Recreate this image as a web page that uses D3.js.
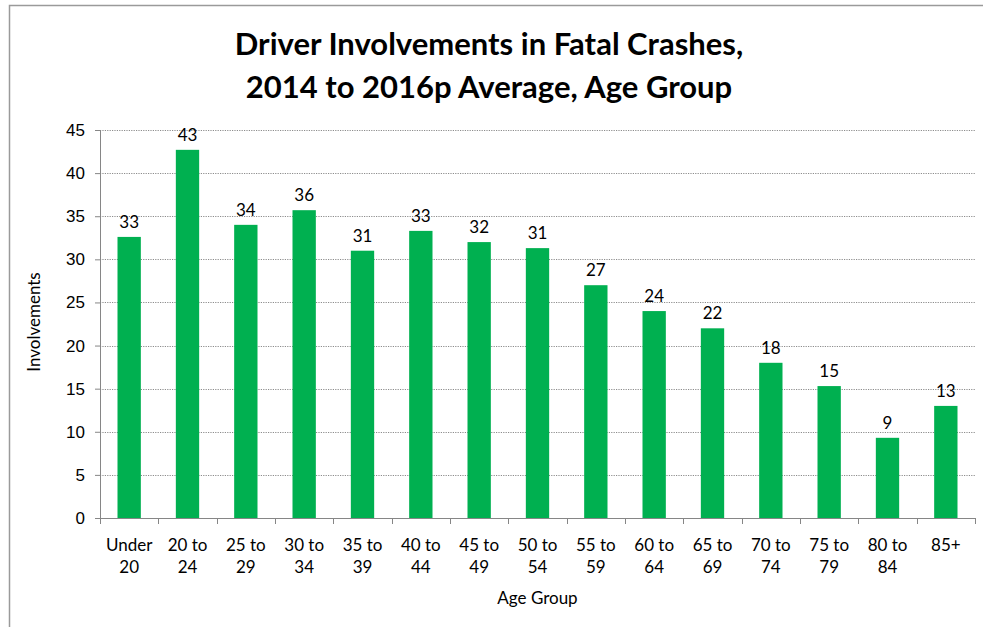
<!DOCTYPE html>
<html>
<head>
<meta charset="utf-8">
<script src="https://cdn.jsdelivr.net/npm/d3@7"></script>
<style>
  body { margin: 0; background: #fff; }
  svg { display: block; font-family: Lato, "Open Sans", sans-serif; }
  .grid line { stroke: #8c8c8c; stroke-dasharray: 1.2 1.2; stroke-width: 1; }
  .axis path, .axis line { stroke: #868686; }
  .axis text { font-size: 17px; fill: #000; }
</style>
</head>
<body>
<div id="chart"></div>
<script>
// age groups (two-line labels) and average involvements
var ageGroups = ["Under 20", "20 to 24", "25 to 29", "30 to 34", "35 to 39", "40 to 44", "45 to 49",
  "50 to 54", "55 to 59", "60 to 64", "65 to 69", "70 to 74", "75 to 79", "80 to 84", "85+"];
var tickLines = [["Under", "20"], ["20 to", "24"], ["25 to", "29"], ["30 to", "34"], ["35 to", "39"],
  ["40 to", "44"], ["45 to", "49"], ["50 to", "54"], ["55 to", "59"], ["60 to", "64"], ["65 to", "69"],
  ["70 to", "74"], ["75 to", "79"], ["80 to", "84"], ["85+"]];
var involvements = [32.6, 42.7, 34.0, 35.7, 31.0, 33.3, 32.0, 31.3, 27.0, 24.0, 22.0, 18.0, 15.3, 9.3, 13.0];
var yTicks = [0, 5, 10, 15, 20, 25, 30, 35, 40, 45];

var W = 983, H = 627;
var margin = {top: 130, right: 8, bottom: 109, left: 100};
var width = W - margin.left - margin.right,
  height = H - margin.top - margin.bottom;

var svg = d3.select("#chart").append("svg").attr("width", W).attr("height", H);

/* outer frame */
svg.append("rect")
  .attr("x", 9.5).attr("y", 5.5).attr("width", 1000).attr("height", 700)
  .attr("fill", "none").attr("stroke", "#9a9a9a").attr("stroke-width", 1.5);

/* title */
var title = svg.append("text")
  .attr("text-anchor", "middle")
  .style("font-weight", "bold").style("font-size", "31px");
title.append("tspan").attr("x", 489).attr("y", 55).text("Driver Involvements in Fatal Crashes,");
title.append("tspan").attr("x", 489).attr("y", 98).text("2014 to 2016p Average, Age Group");

var g = svg.append("g").attr("transform", "translate(" + margin.left + "," + margin.top + ")");

var x = d3.scaleBand().domain(ageGroups).range([0, width]).paddingInner(0.6).paddingOuter(0.3);
var y = d3.scaleLinear().domain([0, 45]).range([height, 0]);

/* dotted gridlines */
g.append("g").attr("class", "grid")
  .selectAll("line").data(yTicks.filter(function(d) { return d > 0; }))
  .enter().append("line")
  .attr("x1", 0).attr("x2", width)
  .attr("y1", function(d) { return Math.round(y(d)) + 0.5; })
  .attr("y2", function(d) { return Math.round(y(d)) + 0.5; });

/* bars */
g.selectAll(".bar").data(involvements)
  .enter().append("rect")
  .attr("class", "bar")
  .attr("x", function(d, i) { return x(ageGroups[i]); })
  .attr("width", x.bandwidth())
  .attr("y", function(d) { return y(d); })
  .attr("height", function(d) { return height - y(d); })
  .attr("fill", "#00b050");

/* value labels */
g.selectAll(".val").data(involvements)
  .enter().append("text")
  .attr("class", "val")
  .attr("text-anchor", "middle")
  .attr("x", function(d, i) { return x(ageGroups[i]) + x.bandwidth() / 2; })
  .attr("y", function(d) { return y(d) - 9; })
  .style("font-size", "17px")
  .text(function(d) { return Math.round(d); });

/* y axis */
g.append("g").attr("class", "axis")
  .call(d3.axisLeft(y).tickValues(yTicks).tickSize(5).tickPadding(10).tickSizeOuter(5));

/* x axis with ticks at band edges */
var xAxis = g.append("g").attr("class", "axis")
  .attr("transform", "translate(0," + height + ")");
xAxis.append("line").attr("x1", 0).attr("x2", width).attr("y1", 0.5).attr("y2", 0.5);
var step = x.step();
xAxis.selectAll(".tk").data(d3.range(ageGroups.length + 1))
  .enter().append("line")
  .attr("x1", function(i) { return Math.round(i * step) + 0.5; })
  .attr("x2", function(i) { return Math.round(i * step) + 0.5; })
  .attr("y1", 0).attr("y2", 6);
var lbl = xAxis.selectAll(".lbl").data(tickLines)
  .enter().append("text")
  .attr("text-anchor", "middle")
  .attr("transform", function(d, i) { return "translate(" + (x(ageGroups[i]) + x.bandwidth() / 2) + ",0)"; });
lbl.selectAll("tspan").data(function(d) { return d; })
  .enter().append("tspan")
  .attr("x", 0)
  .attr("y", function(d, j) { return 33 + j * 22; })
  .text(function(d) { return d; });

/* axis titles */
svg.append("text")
  .attr("transform", "translate(40," + (margin.top + height / 2 - 2) + ") rotate(-90)")
  .attr("text-anchor", "middle")
  .style("font-size", "17px")
  .text("Involvements");
svg.append("text")
  .attr("x", margin.left + width / 2).attr("y", 604)
  .attr("text-anchor", "middle")
  .style("font-size", "17px")
  .text("Age Group");
</script>
</body>
</html>
